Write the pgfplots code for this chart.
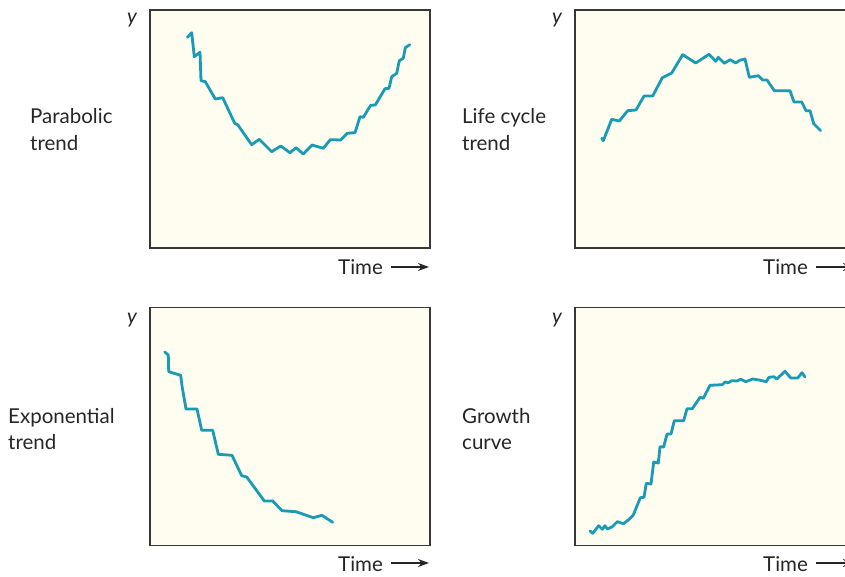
\documentclass[border=0pt]{standalone}
\usepackage{fontspec}
\setmainfont{Lato}
\usepackage{pgfplots}
\pgfplotsset{compat=1.18}
\usetikzlibrary{arrows.meta}
\definecolor{teal1}{RGB}{25,155,182}
\definecolor{cream}{RGB}{254,253,239}
\definecolor{frame}{RGB}{55,55,55}
\pgfplotsset{
  panel/.style={
    scale only axis, width=280pt, height=238pt,
    xmin=0, xmax=280, ymin=0, ymax=238, y dir=reverse,
    xtick=\empty, ytick=\empty,
    axis background/.style={fill=cream},
    axis line style={draw=frame, line width=1.2pt},
    anchor=north west, clip=false,
  },
  trend/.style={teal1, line width=2.8pt, line join=round, line cap=round, no marks},
}
\begin{document}
\begin{tikzpicture}[x=1pt,y=1pt]
\useasboundingbox (0pt,0pt) rectangle (845pt,576pt);
\clip (0pt,0pt) rectangle (845pt,576pt);
\fill[white] (0pt,0pt) rectangle (845pt,576pt);
% top-left: parabolic
\begin{axis}[panel, at={(150pt,566pt)}]
\addplot[trend] coordinates {(37.3,27.3) (41.7,22.7) (44.3,46.7) (50,42.3) (51,70.7) (55.3,71.7) (65.3,89) (72.7,87.7) (84.7,113.3) (87.7,114.7) (101.7,134.7) (109.3,129.3) (121.7,141.7) (130.7,136) (140,142.7) (146,137.7) (153.3,144) (162,135) (173.3,138.3) (180.3,129.7) (190.7,130) (197.3,123.3) (205,122.7) (210,106.7) (213.3,107.3) (220.7,95.3) (225.3,95) (235,78.7) (239,78.3) (241.7,66.7) (246.7,63.3) (249.3,50.7) (253.3,48.3) (255.3,37.7) (259.7,34.7)};
\end{axis}
% top-right: life cycle
\begin{axis}[panel, at={(575pt,566pt)}]
\addplot[trend] coordinates {(26.7,128.3) (28.3,130.7) (36.7,109.3) (44.3,111) (52.7,100.7) (61,100) (69,86) (77.7,86) (87.3,67.7) (96.7,63) (107.7,44.7) (120.7,53) (134,44.3) (140.7,51.3) (143.3,47.3) (149.3,53.3) (155,49.7) (160.7,53) (164.7,50.3) (170,49) (174.3,67.3) (183.3,65.7) (187.7,70) (192,70) (199.3,80.7) (215,80.7) (219,92) (226.7,92) (231,100.7) (235,100.7) (238.7,113.7) (245.7,120.7)};
\end{axis}
% bottom-left: exponential
\begin{axis}[panel, at={(150pt,268.5pt)}]
\addplot[trend] coordinates {(14.7,44.5) (18.3,47.5) (18.7,64.2) (30.7,67.8) (32,78.5) (36,101.5) (47,101.5) (51.7,122.8) (62.7,122.8) (68.3,146.8) (82,147.8) (91.7,168.2) (96.7,169.5) (114.3,193.5) (122.7,193.5) (132,203.2) (146,204.2) (163.3,210.2) (172,207.8) (182.7,214.8)};
\end{axis}
% bottom-right: growth
\begin{axis}[panel, at={(575pt,268.5pt)}]
\addplot[trend] coordinates {(15,223.5) (17.7,225.8) (23.7,218.2) (27.3,221.8) (30,218.2) (32.3,221.5) (37.3,219.2) (42.3,214.2) (48.3,216.2) (53.3,212.5) (58.3,207.5) (65.3,190.2) (69,189.8) (71.3,175.8) (76,176.5) (78.7,154.5) (83.3,155.5) (85,139.2) (88.7,139.5) (92,126.5) (96,126.5) (99.3,113.2) (108.7,113.2) (112,101.2) (117.3,101.2) (125,89.8) (128.3,90.8) (135,77.8) (147.3,77.2) (150,74.5) (153.3,75.2) (156.7,73.2) (161.7,73.5) (165.7,71.8) (170.7,74.2) (177.7,71.5) (184,72.5) (191.3,74.2) (194,69.8) (199,69.2) (201.7,71.5) (210,63.8) (215.7,70.5) (222.7,70.5) (227,65.2) (230,69.5)};
\end{axis}
% labels
\begin{scope}[every node/.style={anchor=base west, inner sep=0pt, text=black!85, font=\fontsize{20.5}{24}\selectfont}]
\node at (127pt,552pt) {\itshape y};
\node at (552pt,552pt) {\itshape y};
\node at (127pt,252pt) {\itshape y};
\node at (552pt,252pt) {\itshape y};
\node at (30pt,452pt) {Parabolic};
\node at (30pt,425pt) {trend};
\node at (462pt,452pt) {Life cycle};
\node at (462pt,425pt) {trend};
\node at (8pt,153pt) {Exponential};
\node at (8pt,127pt) {trend};
\node at (462pt,153pt) {Growth};
\node at (462pt,127pt) {curve};
\node at (338pt,301pt) {Time};
\node at (763pt,301pt) {Time};
\node at (338pt,5pt) {Time};
\node at (763pt,5pt) {Time};
\end{scope}
\foreach \ax/\ay in {391/309, 816/309, 391/13, 816/13}{
  \draw[black!85, line width=1.5pt, -{Stealth[length=11pt,width=8pt]}] (\ax pt,\ay pt) -- ++(38pt,0pt);
}
\end{tikzpicture}
\end{document}
